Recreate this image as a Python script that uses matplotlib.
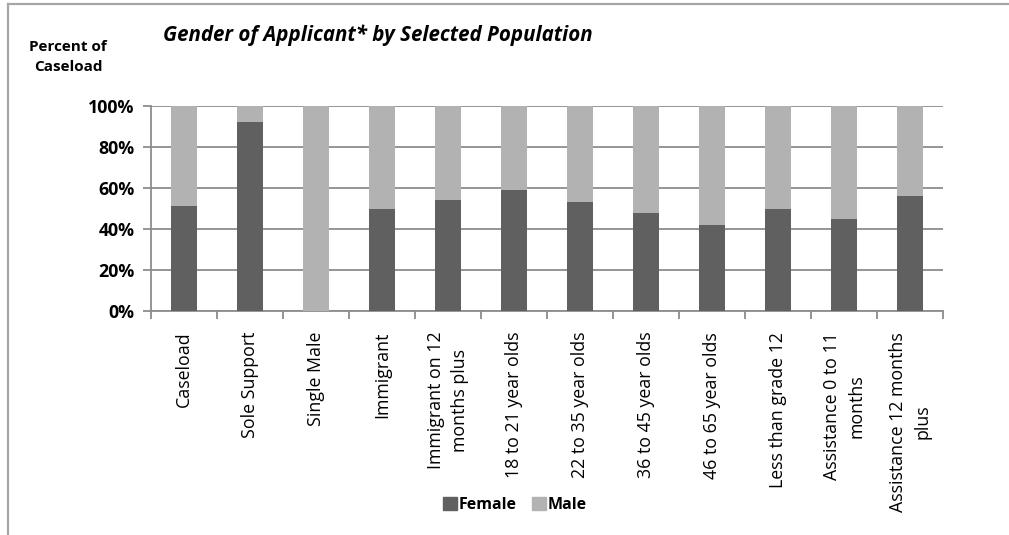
import matplotlib
matplotlib.use("Agg")
import matplotlib.pyplot as plt
from matplotlib.lines import Line2D
from matplotlib.patches import Patch
import numpy as np

plt.rcParams['font.family'] = ['Open Sans', 'DejaVu Sans']

categories = ["Caseload", "Sole Support", "Single Male", "Immigrant",
              "Immigrant on 12\nmonths plus", "18 to 21 year olds",
              "22 to 35 year olds", "36 to 45 year olds", "46 to 65 year olds",
              "Less than grade 12", "Assistance 0 to 11\nmonths",
              "Assistance 12 months\nplus"]
female = [51, 92, 0, 50, 54, 59, 53, 48, 42, 50, 45, 56]
male = [100 - f for f in female]
yticks = [0, 20, 40, 60, 80, 100]
ytick_labels = ["0%", "20%", "40%", "60%", "80%", "100%"]

W, H = 1009, 535
fig = plt.figure(figsize=(W / 100, H / 100), dpi=100)

# frame lines (top and left visible in the reference)
fig.add_artist(Line2D([8 / W, 1], [1 - 4 / H, 1 - 4 / H], color="#a6a6a6", lw=1.6))
fig.add_artist(Line2D([8 / W, 8 / W], [0, 1 - 4 / H], color="#a6a6a6", lw=1.6))

ax = fig.add_axes([151 / W, 1 - 311 / H, (943 - 151) / W, (311 - 106) / H])
x = np.arange(len(categories))
fc, mc = "#606060", "#b2b2b2"
ax.bar(x, female, width=0.4, color=fc, zorder=3, label="Female")
ax.bar(x, male, width=0.4, bottom=female, color=mc, zorder=3, label="Male")

ax.set_xlim(-0.5, len(categories) - 0.5)
ax.set_ylim(0, 100)
ax.set_yticks(yticks)
ax.set_yticklabels(ytick_labels, fontweight="bold", fontsize=12.8)
ax.yaxis.grid(True, color="#8c8c8c", lw=1.3, zorder=0)
ax.tick_params(axis="y", length=6, width=1.3, color="#8c8c8c", pad=6)

ax.set_xticks(x)
ax.set_xticklabels(categories, rotation=90, va="top", ha="center",
                   multialignment="center", fontsize=12.8, linespacing=1.45)
ax.tick_params(axis="x", length=0, pad=15)
ax.set_xticks(np.arange(-0.5, len(categories), 1), minor=True)
ax.tick_params(axis="x", which="minor", length=6, width=1.3, color="#8c8c8c")

for s in ["top", "right"]:
    ax.spines[s].set_visible(False)
for s in ["left", "bottom"]:
    ax.spines[s].set_color("#8c8c8c")
    ax.spines[s].set_linewidth(1.3)

fig.text(163 / W, 1 - 35 / H, "Gender of Applicant* by Selected Population",
         fontsize=14.8, fontweight="bold", fontstyle="italic", va="center", ha="left")
fig.text(68 / W, 1 - 57 / H, "Percent of\nCaseload", fontsize=11,
         fontweight="bold", va="center", ha="center", linespacing=1.6)

handles = [Patch(color=fc, label="Female"), Patch(color=mc, label="Male")]
fig.legend(handles=handles, loc="center", bbox_to_anchor=(515 / W, 1 - 505 / H),
           ncol=2, frameon=False, prop={"weight": "bold", "size": 11.5},
           handlelength=0.85, handleheight=0.85, handletextpad=0.1,
           columnspacing=1.0, borderpad=0)

fig.savefig("out.png", dpi=100, facecolor="white")
